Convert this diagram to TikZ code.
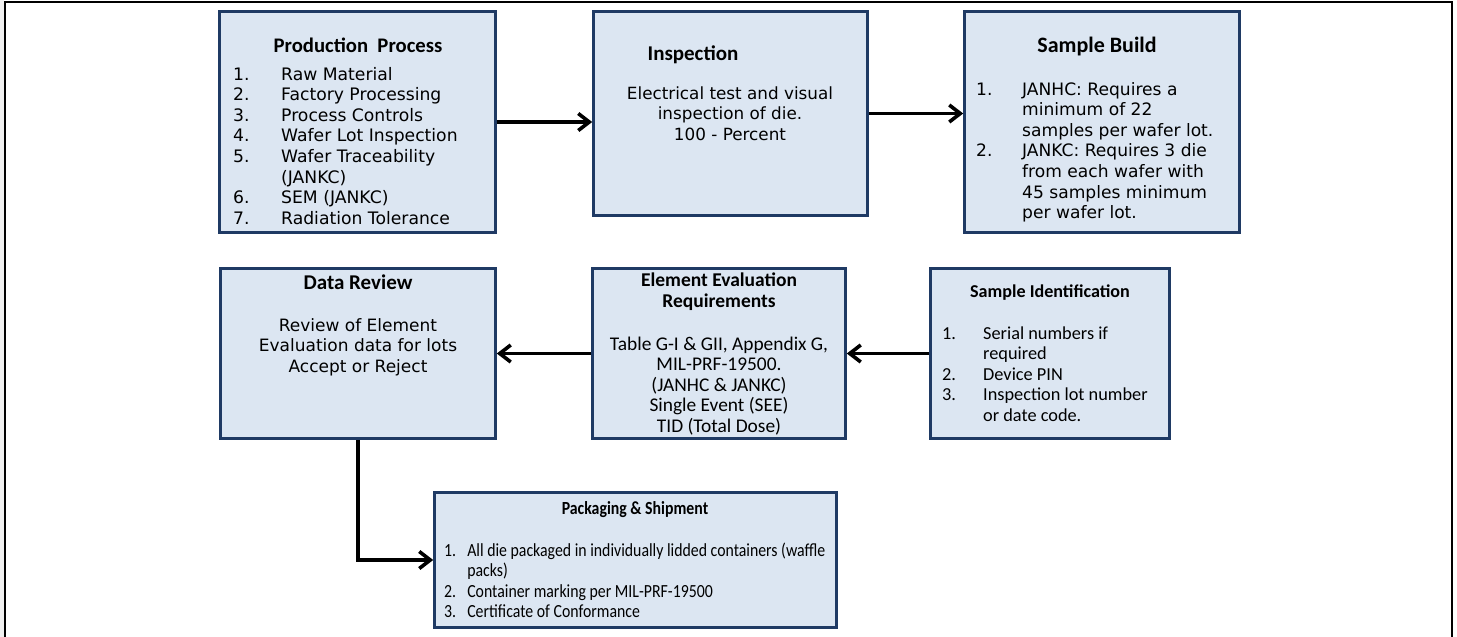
\documentclass[tikz,border=0pt]{standalone}
\usepackage{fontspec}
\setmainfont{Carlito}
\newfontfamily\verd{DejaVu Sans}
\usetikzlibrary{arrows.meta}
\definecolor{boxfill}{HTML}{DCE6F2}
\definecolor{boxline}{HTML}{1F3A64}
\newcommand{\mytitle}[1]{\fontsize{#1}{20.4}\selectfont\bfseries}
\newcommand{\myverd}[1]{\verd\fontsize{#1}{20.6}\selectfont}
\newcommand{\mycal}[1]{\fontsize{#1}{20.6}\selectfont}
\tikzset{
  box/.style={draw=boxline, fill=boxfill, line width=2.6pt, inner sep=0pt},
  txt/.style={inner sep=0pt, anchor=base},
  lst/.style={inner sep=0pt, anchor=base west},
  flow/.style={line width=3.6pt, -{Straight Barb[length=11pt,width=17pt]}},
  frame/.style={line width=2.6pt}
}
\begin{document}
\begin{tikzpicture}[x=1pt,y=-1pt]
\useasboundingbox (0,0) rectangle (1457,637);
\fill[gray!12] (0,0) rectangle (3.5,637);
\draw[frame] (5,637) -- (5,2) -- (1452,2) -- (1452,637);

% boxes
\node[box, minimum width=276pt, minimum height=221pt] (pp)  at (357.5,122) {};
\node[box, minimum width=274pt, minimum height=204pt] (ins) at (730.5,113.5) {};
\node[box, minimum width=275pt, minimum height=221pt] (sb)  at (1102,122) {};
\node[box, minimum width=275pt, minimum height=170pt] (dr)  at (358,353.5) {};
\node[box, minimum width=253pt, minimum height=170pt] (ee)  at (719,353.5) {};
\node[box, minimum width=239pt, minimum height=170pt] (si)  at (1050,353.5) {};
\node[box, minimum width=402pt, minimum height=135pt] (pk)  at (635.5,560) {};

% Production Process
\node[txt] (ppt) at (358,52.7) {\mytitle{20.7}Production~~Process};
\node[lst] (ppl) at (233,80) {\myverd{17.2}\begin{tabular}[t]{@{}p{48pt}@{}l@{}}
1.&Raw Material\\
2.&Factory Processing\\
3.&Process Controls\\
4.&Wafer Lot Inspection\\
5.&Wafer Traceability\\
&(JANKC)\\
6.&SEM (JANKC)\\
7.&Radiation Tolerance
\end{tabular}};

% Inspection
\node[txt] (inst) at (693,60) {\mytitle{21}Inspection};
\node[txt] (insb) at (730,99) {\myverd{16.8}\begin{tabular}[t]{@{}c@{}}
Electrical test and visual\\
inspection of die.\\
100 - Percent
\end{tabular}};

% Sample Build
\node[txt] (sbt) at (1097,52.7) {\mytitle{22}Sample Build};
\node[lst] (sbl) at (976,95) {\myverd{17.1}\begin{tabular}[t]{@{}p{46pt}@{}l@{}}
1.&JANHC: Requires a\\
&minimum of 22\\
&samples per wafer lot.\\
2.&JANKC: Requires 3 die\\
&from each wafer with\\
&45 samples minimum\\
&per wafer lot.
\end{tabular}};

% Data Review
\node[txt] (drt) at (358,289) {\mytitle{21}Data Review};
\node[txt] (drb) at (358,331) {\myverd{17}\begin{tabular}[t]{@{}c@{}}
Review of Element\\
Evaluation data for lots\\
Accept or Reject
\end{tabular}};

% Element Evaluation Requirements
\node[txt] (eet) at (719,286.7) {\mytitle{19.5}\begin{tabular}[t]{@{}c@{}}
Element Evaluation\\
Requirements
\end{tabular}};
\node[txt] (eeb) at (719,350) {\mycal{19.4}\begin{tabular}[t]{@{}c@{}}
Table G-I \& GII, Appendix G,\\
MIL-PRF-19500.\\
(JANHC \& JANKC)\\
Single Event (SEE)\\
TID (Total Dose)
\end{tabular}};

% Sample Identification
\node[txt] (sit) at (1050,297.7) {\mytitle{18.1}Sample Identification};
\node[lst] (sil) at (942,339) {\mycal{18.3}\begin{tabular}[t]{@{}p{41pt}@{}l@{}}
1.&Serial numbers if\\
&required\\
2.&Device PIN\\
3.&Inspection lot number\\
&or date code.
\end{tabular}};

% Packaging & Shipment
\node[txt] (pkt) at (635,514) {\scalebox{0.855}[1]{\mytitle{18.5}Packaging \& Shipment}};
\node[lst] (pkl) at (444,556) {\scalebox{0.855}[1]{\mycal{18.5}\begin{tabular}[t]{@{}p{27pt}@{}l@{}}
1.&All die packaged in individually lidded containers (waffle\\
&packs)\\
2.&Container marking per MIL-PRF-19500\\
3.&Certificate of Conformance
\end{tabular}}};

% connectors
\draw[flow] (pp.east) -- (ins.west |- pp.east);
\draw[flow] (ins.east) -- (sb.west |- ins.east);
\draw[flow] (si.west) -- (ee.east);
\draw[flow] (ee.west) -- (dr.east);
\draw[flow] (dr.south) -- (dr.south |- pk.west) -- (pk.west);
\end{tikzpicture}
\end{document}
